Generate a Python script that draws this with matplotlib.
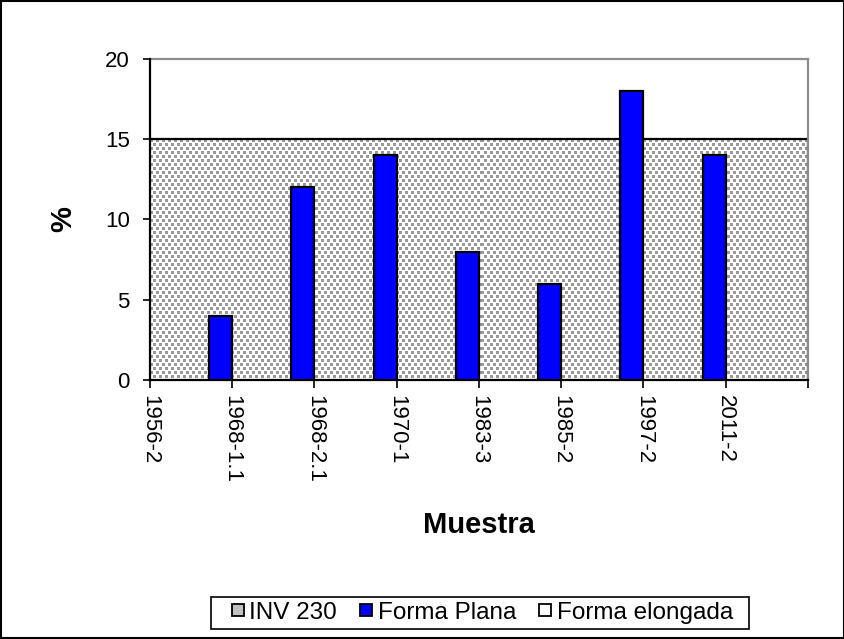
import numpy as np
import matplotlib.pyplot as plt
from matplotlib.lines import Line2D

plt.rcParams['font.family'] = ['Liberation Sans', 'DejaVu Sans']

categorias = ["1956-2", "1968-1.1", "1968-2.1", "1970-1", "1983-3", "1985-2", "1997-2", "2011-2", ""]
inv_230 = [15, 15, 15, 15, 15, 15, 15, 15, 15]
forma_plana = [0, 4, 12, 14, 8, 6, 18, 14, 0]
forma_elongada = [0, 0, 0, 0, 0, 0, 0, 0, 0]

fig = plt.figure(figsize=(8.45, 6.39), dpi=100)
ax = fig.add_axes([0.1775, 0.4053, 0.7787, 0.5024])

x = np.arange(len(categorias))
w = 0.28

# textura tipo Excel (cuadritos grises)
tile = np.ones((8, 6))
tile[0:3, 0:3] = 0.6
tile[4:7, 3:6] = 0.6
tex = np.tile(tile, (40, 120))[:241, :658]

# area limite INV 230
poly = ax.fill_between(x, 0, inv_230, facecolor="none", linewidth=0, zorder=1)
im = ax.imshow(tex, cmap="gray", vmin=0, vmax=1, interpolation="nearest",
               extent=(x[0], x[-1], 0, max(inv_230)), aspect="auto", zorder=1)
im.set_clip_path(poly.get_paths()[0], transform=ax.transData)
ax.plot(x, inv_230, color="black", lw=1.6, zorder=2)
ax.plot([x[-1], x[-1]], [0, inv_230[-1]], color="black", lw=1.6, zorder=2)

ax.bar(x[:-1] - w / 2, forma_plana[:-1], width=w, color="#0000ff",
       edgecolor="black", linewidth=1.6, zorder=3)
ax.bar(x[:-1] + w / 2, forma_elongada[:-1], width=w, color="white",
       edgecolor="black", linewidth=1.0, zorder=3)

ax.set_xlim(0, len(categorias) - 1)
ax.set_ylim(0, 20)
ax.set_yticks([0, 5, 10, 15, 20])
ax.set_xticks(x)
ax.set_xticklabels(categorias, rotation=270, fontsize=16)
ax.tick_params(axis="y", labelsize=16, direction="out", length=5, width=1.2, pad=9.5)
ax.tick_params(axis="x", direction="out", length=6, width=1.2, pad=5)

for s in ["top", "right"]:
    ax.spines[s].set_color("#8c8c8c")
    ax.spines[s].set_linewidth(1.6)
for s in ["left", "bottom"]:
    ax.spines[s].set_color("black")
    ax.spines[s].set_linewidth(1.6)
    ax.spines[s].set_zorder(4)

ax.set_xlabel("Muestra", fontsize=21, fontweight="bold", labelpad=20)
ax.set_ylabel("%", fontsize=21, fontweight="bold", labelpad=20)

def cuadro(color, nombre):
    return Line2D([], [], marker="s", linestyle="none", markersize=9,
                  markerfacecolor=color, markeredgecolor="black",
                  markeredgewidth=1.3, label=nombre)

handles = [cuadro("#c0c0c0", "INV 230"),
           cuadro("#0000ff", "Forma Plana"),
           cuadro("white", "Forma elongada")]
fig.legend(handles=handles, loc="center", bbox_to_anchor=(0.571, 0.0407), ncol=3,
           fontsize=17.5, frameon=False, handlelength=0.5,
           handletextpad=0.22, columnspacing=0.95, borderpad=0.1)
# marco de la leyenda
fig.patches.append(plt.Rectangle((211 / 845, 1 - 629 / 639), 538 / 845, 32 / 639,
                                 transform=fig.transFigure, fill=False,
                                 edgecolor="black", linewidth=1.2))

fig.patches.append(plt.Rectangle((0.001, 0.001), 0.998, 0.998, transform=fig.transFigure,
                                 fill=False, edgecolor="black", linewidth=1.5))

fig.savefig("out.png", dpi=100)
